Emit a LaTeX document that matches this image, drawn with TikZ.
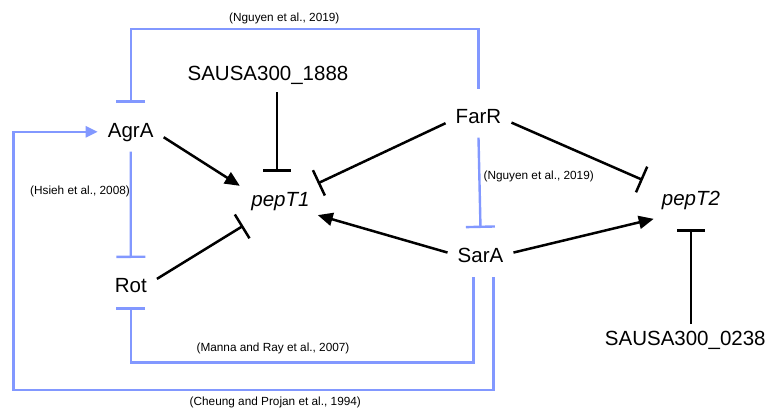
\documentclass[tikz,border=0pt]{standalone}
\usepackage{fontspec}
\setmainfont{Liberation Sans}
\usetikzlibrary{arrows.meta}
\definecolor{linkblue}{RGB}{130,152,255}
\begin{document}
\begin{tikzpicture}[x=1pt,y=-1pt,
  gene/.style={font=\fontsize{20.5}{24}\selectfont, anchor=base, text height=26.5pt, text depth=6.2pt, inner xsep=10pt, inner ysep=8pt},
  target/.style={font=\fontsize{20.5}{24}\selectfont\itshape, anchor=base, text height=14.5pt, text depth=4.2pt, inner xsep=8pt, inner ysep=20pt},
  locus/.style={font=\fontsize{20.5}{24}\selectfont, anchor=base, text height=14.5pt, text depth=4.2pt, inner sep=7pt},
  cite/.style={font=\fontsize{11.8}{14}\selectfont, inner sep=0pt},
  act/.style={draw=black, line width=2.5pt, -{Triangle[length=15pt,width=13pt]}},
  inh/.style={draw=black, line width=2.5pt, -{Bar[width=28pt]}},
  bact/.style={draw=linkblue, line width=2.4pt, -{Triangle[length=12pt,width=11pt]}},
  binh/.style={draw=linkblue, line width=2.4pt, -{Bar[width=29pt]}}]
\useasboundingbox (0,0) rectangle (769,409);
\node[gene] (agra) at (130.7,137.3) {AgrA};
\node[gene] (rot) at (130.8,292.7) {Rot};
\node[gene] (farr) at (478.5,123.3) {FarR};
\node[gene] (sara) at (480.5,262.7) {SarA};
\node[target] (pept1) at (280.5,206.7) {pepT1};
\node[target] (pept2) at (691,205) {pepT2};
\node[locus] (s1888) at (268,81) {SAUSA300\_1888};
\node[locus] (s0238) at (685.3,345.7) {SAUSA300\_0238};
\node[cite] (c1) at (284.3,18) {(Nguyen et al., 2019)};
\node[cite] (c2) at (538.7,176) {(Nguyen et al., 2019)};
\node[cite] (c3) at (80,191) {(Hsieh et al., 2008)};
\node[cite] (c4) at (273,348.7) {(Manna and Ray et al., 2007)};
\node[cite] (c5) at (275.3,402.8) {(Cheung and Projan et al., 1994)};
\coordinate (toprail) at (0,29.3);
\coordinate (midrail) at (0,362.3);
\coordinate (lowcorner) at (13.3,390);
\draw[binh] (farr.north) -- (farr.north |- toprail) -| (agra.north);
\draw[binh] (agra.south) -- (rot.north);
\draw[binh] (farr.south) -- (sara.north);
\draw[binh] (sara.-106) -- (sara.-106 |- midrail) -| (rot.south);
\draw[bact] (sara.-62) |- (lowcorner) |- (agra.188);
\draw[act, shorten >=4pt] (agra.-17) -- (pept1.160);
\draw[inh] (s1888.south -| pept1.97) -- (pept1.97);
\draw[inh] (farr.197) -- (pept1.26);
\draw[inh, shorten >=12pt] (farr.-16) -- (pept2.158);
\draw[act] (sara.west) -- (pept1.-20);
\draw[act] (sara.east) -- (pept2.207);
\draw[inh] (rot.8) -- (pept1.213);
\draw[inh] (s0238.north -| pept2.south) -- (pept2.south);
\end{tikzpicture}
\end{document}
